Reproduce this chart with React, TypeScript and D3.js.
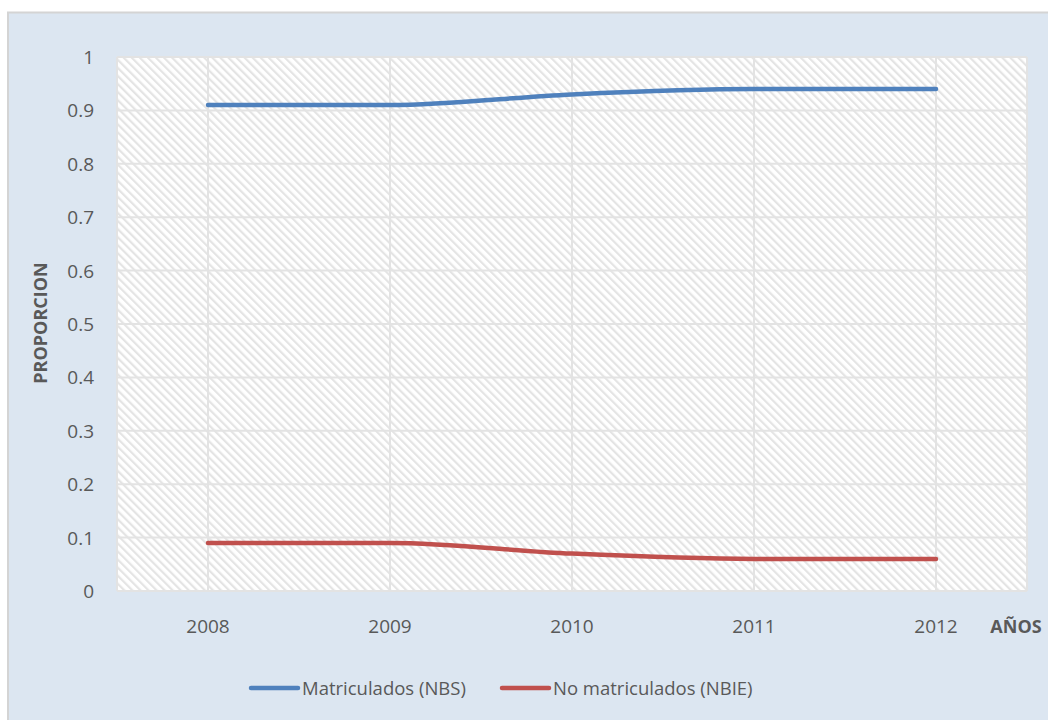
import React from 'react';
import * as d3 from 'd3';

// chart data
const years = ['2008', '2009', '2010', '2011', '2012'];
const matriculados = [0.91, 0.91, 0.93, 0.94, 0.94];
const noMatriculados = [0.09, 0.09, 0.07, 0.06, 0.06];
const yTicks = [0, 0.1, 0.2, 0.3, 0.4, 0.5, 0.6, 0.7, 0.8, 0.9, 1];
const seriesNames = ['Matriculados (NBS)', 'No matriculados (NBIE)'];
const seriesColors = ['#4f81bd', '#c0504d'];

const W = 1048;
const H = 720;
const plot = { left: 117, right: 1027, top: 57, bottom: 591 };
const font = '"Open Sans", sans-serif';

const App = () => {
  const x = d3.scaleBand().domain(years).range([plot.left, plot.right]);
  const y = d3.scaleLinear().domain([0, 1]).range([plot.bottom, plot.top]);
  const cx = (d: string) => (x(d) as number) + x.bandwidth() / 2;

  const line = d3
    .line<number>()
    .x((_, i) => cx(years[i]))
    .y(v => y(v))
    .curve(d3.curveMonotoneX);

  const series = [matriculados, noMatriculados];

  return (
    <svg width={W} height={H} style={{ position: 'absolute', left: 0, top: 0 }}>
      <defs>
        <pattern id="hatch" width={5.7} height={5.7} patternUnits="userSpaceOnUse" patternTransform="rotate(-45)">
          <rect width={5.7} height={5.7} fill="#ffffff" />
          <rect x={0} y={0} width={2.2} height={5.7} fill="#e4e4e4" />
        </pattern>
      </defs>

      <rect x={0} y={0} width={W} height={H} fill="#ffffff" />
      <rect x={8} y={12.5} width={W} height={H} fill="#dce6f1" stroke="#d4d4d4" strokeWidth={2} />

      <rect
        x={plot.left}
        y={plot.top}
        width={plot.right - plot.left}
        height={plot.bottom - plot.top}
        fill="url(#hatch)"
      />

      {/* grid */}
      {yTicks.map(t => (
        <line key={'h' + t} x1={plot.left} x2={plot.right} y1={y(t)} y2={y(t)} stroke="#e3e3e3" strokeWidth={2} />
      ))}
      {years.map(d => (
        <line key={'v' + d} x1={cx(d)} x2={cx(d)} y1={plot.top} y2={plot.bottom} stroke="#e3e3e3" strokeWidth={2} />
      ))}
      <line x1={plot.left} x2={plot.left} y1={plot.top} y2={plot.bottom} stroke="#e3e3e3" strokeWidth={2} />
      <line x1={plot.right} x2={plot.right} y1={plot.top} y2={plot.bottom} stroke="#e3e3e3" strokeWidth={2} />

      {/* y tick labels */}
      {yTicks.map(t => (
        <text key={'yl' + t} x={94} y={y(t) + 7} textAnchor="end" fontFamily={font} fontSize={19} fill="#595959">
          {d3.format('')(t)}
        </text>
      ))}

      {/* x tick labels */}
      {years.map(d => (
        <text key={'xl' + d} x={cx(d)} y={633} textAnchor="middle" fontFamily={font} fontSize={19} fill="#595959">
          {d}
        </text>
      ))}

      <text x={1016} y={633} textAnchor="middle" fontFamily={font} fontSize={18} fontWeight="bold" fill="#595959">
        AÑOS
      </text>
      <text
        transform="translate(47,323) rotate(-90)"
        textAnchor="middle"
        fontFamily={font}
        fontSize={18}
        fontWeight="bold"
        fill="#595959"
      >
        PROPORCION
      </text>

      {/* lines */}
      {series.map((s, i) => (
        <path key={'s' + i} d={line(s) || ''} fill="none" stroke={seriesColors[i]} strokeWidth={4.5} strokeLinecap="round" />
      ))}

      {/* legend */}
      {seriesNames.map((n, i) => {
        const lx = i === 0 ? 251 : 502;
        return (
          <g key={'lg' + i}>
            <line x1={lx} x2={lx + 47} y1={688} y2={688} stroke={seriesColors[i]} strokeWidth={4.5} strokeLinecap="round" />
            <text x={lx + 51} y={695} fontFamily={font} fontSize={18.5} fill="#595959">
              {n}
            </text>
          </g>
        );
      })}
    </svg>
  );
};

export default App;
